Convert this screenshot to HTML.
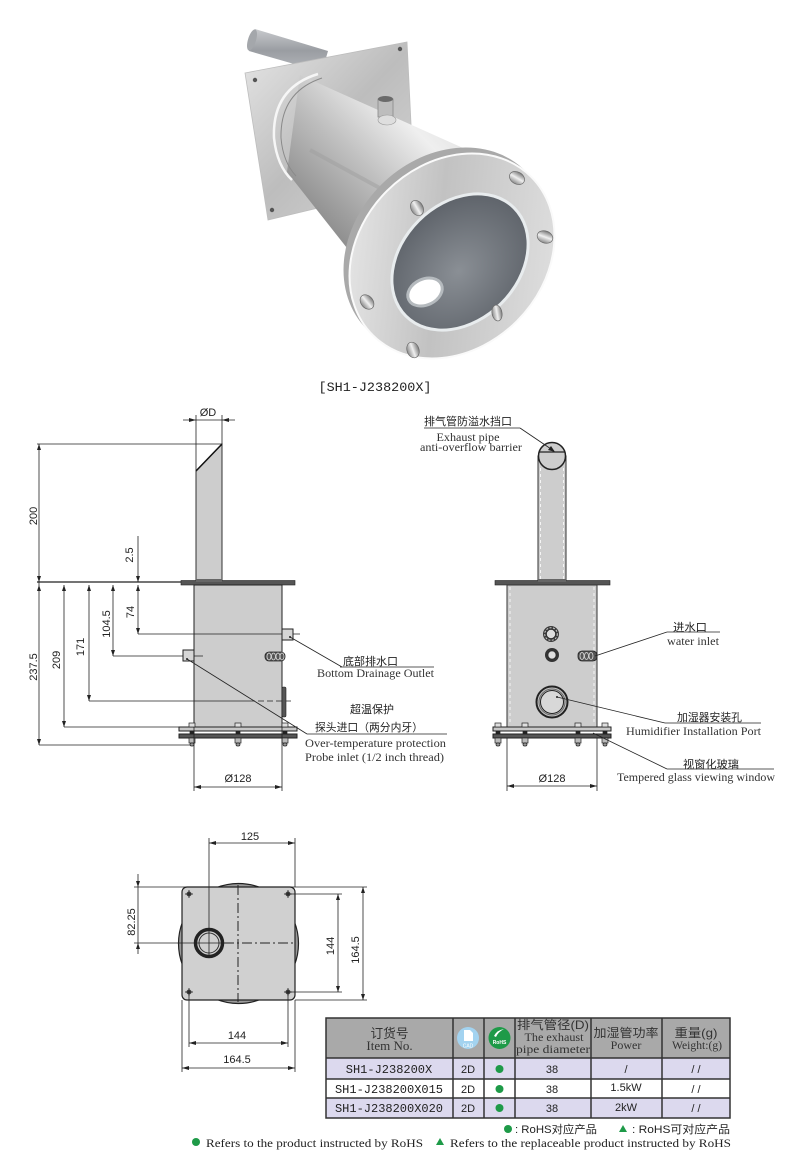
<!DOCTYPE html>
<html><head><meta charset="utf-8"><style>
html,body{margin:0;padding:0;background:#fff;}
svg{display:block}
.l{stroke:#222;stroke-width:0.8;fill:none}
.d{font-family:"Liberation Sans",sans-serif;font-size:11px;fill:#222}
.c{font-family:"Liberation Sans","Noto Sans CJK SC",sans-serif;font-size:11px;fill:#222}
.e{font-family:"Liberation Serif",serif;font-size:12px;fill:#333}
.a{fill:#222;stroke:none}
</style></head><body>
<svg width="800" height="1158" viewBox="0 0 800 1158" xmlns="http://www.w3.org/2000/svg">
<defs>
<linearGradient id="gPipe" x1="0" y1="0" x2="0" y2="1"><stop offset="0" stop-color="#c8cacd"/><stop offset="0.5" stop-color="#9a9da2"/><stop offset="1" stop-color="#b4b7bb"/></linearGradient>
<linearGradient id="gPlate" x1="0" y1="0" x2="1" y2="1"><stop offset="0" stop-color="#e6e6e6"/><stop offset="0.5" stop-color="#bdbdbd"/><stop offset="1" stop-color="#d6d6d6"/></linearGradient>
<linearGradient id="gCyl" x1="1" y1="0" x2="0" y2="1"><stop offset="0" stop-color="#d2d2d2"/><stop offset="0.3" stop-color="#efefef"/><stop offset="0.55" stop-color="#bdbdbd"/><stop offset="0.8" stop-color="#8f8f8f"/><stop offset="1" stop-color="#c4c4c4"/></linearGradient>
<linearGradient id="gRing" x1="0" y1="0" x2="1" y2="1"><stop offset="0" stop-color="#f2f2f2"/><stop offset="0.45" stop-color="#c2c2c2"/><stop offset="1" stop-color="#e6e6e6"/></linearGradient>
<radialGradient id="gWin" cx="0.45" cy="0.55" r="0.6"><stop offset="0" stop-color="#8a8f95"/><stop offset="1" stop-color="#5d6269"/></radialGradient>
<linearGradient id="gBolt" x1="0" y1="0" x2="1" y2="0"><stop offset="0" stop-color="#8a8a8a"/><stop offset="0.5" stop-color="#f0f0f0"/><stop offset="1" stop-color="#7a7a7a"/></linearGradient>
</defs>

<!-- ===== PHOTO ===== -->
<polygon points="255,29 328,51 322,72 249,51" fill="url(#gPipe)"/>
<ellipse cx="252" cy="40" rx="4" ry="11" transform="rotate(17 252 40)" fill="#a4a7ab"/>
<polygon points="245,73 407,42 414,185 268,220" fill="url(#gPlate)" stroke="#bdbdbd" stroke-width="0.8"/>
<circle cx="255" cy="80" r="2.2" fill="#555"/>
<circle cx="400" cy="49" r="2.2" fill="#555"/>
<circle cx="272" cy="210" r="2.2" fill="#555"/>
<polygon points="300,75 472,152 358,262 287,172" fill="url(#gCyl)"/>
<path d="M318,74 Q272,88 274,138 Q277,166 292,180" fill="none" stroke="#f6f6f6" stroke-width="2.5"/>
<path d="M322,78 Q280,92 281,138 Q283,162 296,176" fill="none" stroke="#8a8a8a" stroke-width="1"/>
<path d="M310,150 L420,210" stroke="#a0a0a0" stroke-width="4" opacity="0.5"/>
<rect x="378" y="99" width="15" height="18" fill="#bdbdbd" stroke="#888" stroke-width="0.8"/>
<ellipse cx="385.5" cy="99" rx="7.5" ry="3" fill="#6a6a6a"/>
<ellipse cx="387" cy="120" rx="9" ry="5" fill="#dedede" stroke="#999" stroke-width="0.6"/>
<ellipse cx="446" cy="250" rx="112" ry="92" transform="rotate(-45 446 250)" fill="#a9a9a9"/>
<ellipse cx="452" cy="256" rx="112" ry="92" transform="rotate(-45 452 256)" fill="url(#gRing)" stroke="#fafafa" stroke-width="2"/>
<ellipse cx="460" cy="262" rx="78" ry="60" transform="rotate(-45 460 262)" fill="#e8ecee"/>
<ellipse cx="460" cy="262" rx="75" ry="57" transform="rotate(-45 460 262)" fill="url(#gWin)"/>
<ellipse cx="425" cy="292" rx="18" ry="13" transform="rotate(-25 425 292)" fill="#fff" stroke="#b5babe" stroke-width="3"/>
<g fill="url(#gBolt)" stroke="#6a6a6a" stroke-width="0.7">
<ellipse cx="417" cy="208" rx="6" ry="8" transform="rotate(-30 417 208)"/>
<ellipse cx="517" cy="178" rx="6" ry="8" transform="rotate(-60 517 178)"/>
<ellipse cx="545" cy="237" rx="6" ry="8" transform="rotate(-70 545 237)"/>
<ellipse cx="497" cy="313" rx="5" ry="8" transform="rotate(-10 497 313)"/>
<ellipse cx="413" cy="350" rx="6" ry="8" transform="rotate(-20 413 350)"/>
<ellipse cx="367" cy="302" rx="6" ry="8" transform="rotate(-40 367 302)"/>
</g>

<text x="375" y="391" text-anchor="middle" font-family="Liberation Mono,monospace" font-size="13" fill="#222" textLength="113" lengthAdjust="spacingAndGlyphs">[SH1-J238200X]</text>

<!-- ===== LEFT ELEVATION ===== -->
<polygon points="196,471 222,444 222,582 196,582" fill="#cdcdcd" stroke="#333" stroke-width="1"/>
<line x1="196" y1="471" x2="222" y2="444" stroke="#111" stroke-width="1.5"/>
<line class="l" x1="196" y1="415" x2="196" y2="471"/>
<line class="l" x1="222" y1="415" x2="222" y2="444"/>
<line class="l" x1="183" y1="420" x2="235" y2="420"/>
<polygon class="a" points="196,420 189,418 189,422"/>
<polygon class="a" points="222,420 229,418 229,422"/>
<text class="d" x="208" y="416" text-anchor="middle">ØD</text>
<line class="l" x1="37" y1="444" x2="222" y2="444"/>
<line class="l" x1="39" y1="444" x2="39" y2="745"/>
<polygon class="a" points="39,444 37,450 41,450"/>
<polygon class="a" points="39,582 37,576 41,576"/>
<text class="d" transform="translate(37,516) rotate(-90)" text-anchor="middle">200</text>
<line x1="37" y1="582" x2="182" y2="582" stroke="#222" stroke-width="1.3"/>
<rect x="181" y="580.5" width="114" height="4.5" fill="#555" stroke="#222" stroke-width="0.6"/>
<rect x="196" y="579" width="26" height="3" fill="#666"/>
<line class="l" x1="138" y1="536" x2="138" y2="582"/>
<polygon class="a" points="138,582 136,576 140,576"/>
<text class="d" transform="translate(133,555) rotate(-90)" text-anchor="middle">2.5</text>
<rect x="194" y="585" width="88" height="142" fill="#cdcdcd" stroke="#222" stroke-width="1"/>
<line class="l" x1="138" y1="585" x2="138" y2="634"/>
<polygon class="a" points="138,585 136,591 140,591"/>
<polygon class="a" points="138,634 136,628 140,628"/>
<text class="d" transform="translate(134,612) rotate(-90)" text-anchor="middle">74</text>
<line class="l" x1="113" y1="585" x2="113" y2="656"/>
<polygon class="a" points="113,585 111,591 115,591"/>
<polygon class="a" points="113,656 111,650 115,650"/>
<text class="d" transform="translate(110,624) rotate(-90)" text-anchor="middle">104.5</text>
<line class="l" x1="89" y1="585" x2="89" y2="701"/>
<polygon class="a" points="89,585 87,591 91,591"/>
<polygon class="a" points="89,701 87,695 91,695"/>
<text class="d" transform="translate(84,647) rotate(-90)" text-anchor="middle">171</text>
<line class="l" x1="64" y1="585" x2="64" y2="727"/>
<polygon class="a" points="64,585 62,591 66,591"/>
<polygon class="a" points="64,727 62,721 66,721"/>
<text class="d" transform="translate(60,660) rotate(-90)" text-anchor="middle">209</text>
<polygon class="a" points="39,585 37,591 41,591"/>
<polygon class="a" points="39,745 37,739 41,739"/>
<text class="d" transform="translate(37,667) rotate(-90)" text-anchor="middle">237.5</text>
<line class="l" x1="138" y1="634" x2="300" y2="634"/>
<line class="l" x1="113" y1="656" x2="203" y2="656"/>
<line class="l" x1="89" y1="701" x2="255" y2="701"/>
<line class="l" x1="258" y1="701" x2="293" y2="701" stroke-dasharray="6,3"/>
<line class="l" x1="64" y1="727" x2="194" y2="727"/>
<line class="l" x1="39" y1="745" x2="192" y2="745"/>
<rect x="282" y="629" width="11" height="11" fill="#d6d6d6" stroke="#222" stroke-width="1"/>
<rect x="183" y="650" width="11" height="11" fill="#d6d6d6" stroke="#222" stroke-width="1"/>
<circle cx="290" cy="637" r="1" fill="#222"/>
<circle cx="187" cy="659" r="1" fill="#222"/>
<rect x="265" y="652" width="20" height="9" rx="4" fill="#555" stroke="#222" stroke-width="0.8"/>
<g fill="none" stroke="#ddd" stroke-width="0.8"><ellipse cx="269" cy="656.5" rx="2" ry="3.5"/><ellipse cx="273.5" cy="656.5" rx="2" ry="3.5"/><ellipse cx="278" cy="656.5" rx="2" ry="3.5"/><ellipse cx="282" cy="656.5" rx="2" ry="3.5"/></g>
<rect x="282" y="687" width="4" height="30" rx="1.5" fill="#555" stroke="#222" stroke-width="0.6"/>
<rect x="179" y="727" width="118" height="4" fill="#c8c8c8" stroke="#222" stroke-width="1"/>
<rect x="179" y="734" width="118" height="4" fill="#555" stroke="#222" stroke-width="1"/>
<g stroke="#222" stroke-width="0.7">
<rect x="189" y="723" width="6" height="4" fill="#e0e0e0"/><rect x="190" y="731" width="4" height="3" fill="#222"/><rect x="189" y="738" width="6" height="5" fill="#bbb"/><rect x="190" y="743" width="4" height="3" rx="1.5" fill="#999"/>
<rect x="235" y="723" width="6" height="4" fill="#e0e0e0"/><rect x="236" y="731" width="4" height="3" fill="#222"/><rect x="235" y="738" width="6" height="5" fill="#bbb"/><rect x="236" y="743" width="4" height="3" rx="1.5" fill="#999"/>
<rect x="282" y="723" width="6" height="4" fill="#e0e0e0"/><rect x="283" y="731" width="4" height="3" fill="#222"/><rect x="282" y="738" width="6" height="5" fill="#bbb"/><rect x="283" y="743" width="4" height="3" rx="1.5" fill="#999"/>
</g>
<line class="l" x1="194" y1="727" x2="194" y2="791"/>
<line class="l" x1="282" y1="727" x2="282" y2="791"/>
<line class="l" x1="194" y1="787" x2="282" y2="787"/>
<polygon class="a" points="194,787 201,785 201,789"/>
<polygon class="a" points="282,787 275,785 275,789"/>
<text class="d" x="238" y="782" text-anchor="middle">Ø128</text>
<line class="l" x1="290" y1="637" x2="342" y2="667"/>
<line class="l" x1="340" y1="667" x2="434" y2="667"/>
<text class="c" x="343" y="665" textLength="55" lengthAdjust="spacingAndGlyphs">底部排水口</text>
<text class="e" x="317" y="677" font-size="11" textLength="117" lengthAdjust="spacingAndGlyphs">Bottom Drainage Outlet</text>
<line class="l" x1="187" y1="659" x2="307" y2="734"/>
<line class="l" x1="307" y1="734" x2="447" y2="734"/>
<text class="c" x="372" y="713" text-anchor="middle">超温保护</text>
<text class="c" x="315" y="731" textLength="108" lengthAdjust="spacingAndGlyphs">探头进口（两分内牙）</text>
<text class="e" x="305" y="747" textLength="141" lengthAdjust="spacingAndGlyphs">Over-temperature protection</text>
<text class="e" x="305" y="761" textLength="139" lengthAdjust="spacingAndGlyphs">Probe inlet (1/2 inch thread)</text>

<!-- ===== RIGHT ELEVATION ===== -->
<rect x="538" y="456" width="28" height="126" fill="#cdcdcd" stroke="#333" stroke-width="1"/>
<line x1="540.5" y1="468" x2="540.5" y2="580" stroke="#fff" stroke-width="0.8" stroke-dasharray="3,3"/>
<line x1="563.5" y1="468" x2="563.5" y2="580" stroke="#fff" stroke-width="0.8" stroke-dasharray="3,3"/>
<circle cx="552" cy="456" r="13.5" fill="#cdcdcd" stroke="#222" stroke-width="1.5"/>
<line x1="539" y1="452" x2="565" y2="452" stroke="#222" stroke-width="1.2"/>
<rect x="495" y="580.5" width="115" height="4.5" fill="#555" stroke="#222" stroke-width="0.6"/>
<rect x="538" y="579" width="28" height="3" fill="#666"/>
<rect x="507" y="585" width="90" height="142" fill="#cdcdcd" stroke="#333" stroke-width="1"/>
<line x1="510" y1="587" x2="510" y2="725" stroke="#fff" stroke-width="0.8" stroke-dasharray="3,3"/>
<line x1="594" y1="587" x2="594" y2="725" stroke="#fff" stroke-width="0.8" stroke-dasharray="3,3"/>
<circle cx="551" cy="634" r="8" fill="#3a3a3a"/>
<circle cx="551" cy="634" r="6.3" fill="none" stroke="#ccc" stroke-width="1" stroke-dasharray="2,1.5"/>
<circle cx="551" cy="634" r="4.5" fill="#ddd" stroke="#222" stroke-width="0.6"/>
<circle cx="552" cy="655" r="7" fill="#333"/>
<circle cx="552" cy="655" r="4" fill="#ddd" stroke="#222" stroke-width="0.6"/>
<rect x="578" y="651" width="19" height="10" rx="4" fill="#555" stroke="#222" stroke-width="0.8"/>
<g fill="none" stroke="#ddd" stroke-width="0.8"><ellipse cx="582" cy="656" rx="2" ry="3.5"/><ellipse cx="586.5" cy="656" rx="2" ry="3.5"/><ellipse cx="591" cy="656" rx="2" ry="3.5"/></g>
<circle cx="552" cy="702" r="15.5" fill="#c6c6c6" stroke="#222" stroke-width="2"/>
<circle cx="552" cy="702" r="13" fill="none" stroke="#666" stroke-width="1"/>
<circle cx="552" cy="702" r="11.5" fill="#d8d8d8" stroke="#222" stroke-width="1"/>
<circle cx="557" cy="697" r="1" fill="#222"/>
<rect x="493" y="727" width="118" height="4" fill="#c8c8c8" stroke="#222" stroke-width="1"/>
<rect x="493" y="734" width="118" height="4" fill="#555" stroke="#222" stroke-width="1"/>
<g stroke="#222" stroke-width="0.7">
<rect x="495" y="723" width="6" height="4" fill="#e0e0e0"/><rect x="496" y="731" width="4" height="3" fill="#222"/><rect x="495" y="738" width="6" height="5" fill="#bbb"/><rect x="496" y="743" width="4" height="3" rx="1.5" fill="#999"/>
<rect x="522" y="723" width="6" height="4" fill="#e0e0e0"/><rect x="523" y="731" width="4" height="3" fill="#222"/><rect x="522" y="738" width="6" height="5" fill="#bbb"/><rect x="523" y="743" width="4" height="3" rx="1.5" fill="#999"/>
<rect x="575" y="723" width="6" height="4" fill="#e0e0e0"/><rect x="576" y="731" width="4" height="3" fill="#222"/><rect x="575" y="738" width="6" height="5" fill="#bbb"/><rect x="576" y="743" width="4" height="3" rx="1.5" fill="#999"/>
<rect x="602" y="723" width="6" height="4" fill="#e0e0e0"/><rect x="603" y="731" width="4" height="3" fill="#222"/><rect x="602" y="738" width="6" height="5" fill="#bbb"/><rect x="603" y="743" width="4" height="3" rx="1.5" fill="#999"/>
</g>
<line class="l" x1="507" y1="738" x2="507" y2="791"/>
<line class="l" x1="597" y1="738" x2="597" y2="791"/>
<line class="l" x1="507" y1="786" x2="597" y2="786"/>
<polygon class="a" points="507,786 514,784 514,788"/>
<polygon class="a" points="597,786 590,784 590,788"/>
<text class="d" x="552" y="782" text-anchor="middle">Ø128</text>
<line class="l" x1="424" y1="428" x2="520" y2="428"/>
<line class="l" x1="520" y1="428" x2="554" y2="451"/>
<polygon class="a" points="555,452 548,450 551,446"/>
<text class="c" x="424" y="425" textLength="88" lengthAdjust="spacingAndGlyphs">排气管防溢水挡口</text>
<text class="e" x="468" y="441" font-size="11" text-anchor="middle" textLength="63" lengthAdjust="spacingAndGlyphs">Exhaust pipe</text>
<text class="e" x="471" y="451" font-size="11" text-anchor="middle" textLength="102" lengthAdjust="spacingAndGlyphs">anti-overflow barrier</text>
<line class="l" x1="595" y1="656" x2="667" y2="632"/>
<line class="l" x1="667" y1="632" x2="720" y2="632"/>
<text class="c" x="673" y="631" textLength="34" lengthAdjust="spacingAndGlyphs">进水口</text>
<text class="e" x="667" y="645" font-size="11" textLength="52" lengthAdjust="spacingAndGlyphs">water inlet</text>
<line class="l" x1="557" y1="697" x2="665" y2="723"/>
<line class="l" x1="665" y1="723" x2="761" y2="723"/>
<text class="c" x="677" y="721" textLength="65" lengthAdjust="spacingAndGlyphs">加湿器安装孔</text>
<text class="e" x="626" y="735" font-size="11" textLength="135" lengthAdjust="spacingAndGlyphs">Humidifier Installation Port</text>
<line class="l" x1="593" y1="733" x2="667" y2="769"/>
<line class="l" x1="667" y1="769" x2="774" y2="769"/>
<text class="c" x="683" y="768" textLength="56" lengthAdjust="spacingAndGlyphs">视窗化玻璃</text>
<text class="e" x="617" y="781" font-size="11" textLength="158" lengthAdjust="spacingAndGlyphs">Tempered glass viewing window</text>

<!-- ===== PLAN VIEW ===== -->
<circle cx="238.5" cy="943.5" r="60" fill="#9a9a9a" stroke="#222" stroke-width="1.2"/>
<rect x="182" y="887" width="113" height="113" rx="5" fill="#d0d0d0" stroke="#222" stroke-width="1.2"/>
<line x1="238" y1="885" x2="238" y2="1002" stroke="#222" stroke-width="1" stroke-dasharray="10,3,2,3"/>
<line x1="224" y1="943" x2="295" y2="943" stroke="#222" stroke-width="1" stroke-dasharray="10,3,2,3"/>
<line class="l" x1="134" y1="943" x2="224" y2="943"/>
<circle cx="209" cy="943" r="13.5" fill="#d0d0d0" stroke="#222" stroke-width="3.5"/>
<circle cx="209" cy="943" r="10" fill="#d0d0d0" stroke="#333" stroke-width="1"/>
<line class="l" x1="209" y1="838" x2="209" y2="957"/>
<line class="l" x1="195" y1="943" x2="223" y2="943"/>
<g fill="#444"><circle cx="189" cy="894" r="2.5"/><circle cx="288" cy="894" r="2.5"/><circle cx="189" cy="992" r="2.5"/><circle cx="288" cy="992" r="2.5"/></g>
<g class="l"><line x1="185" y1="894" x2="193" y2="894"/><line x1="189" y1="890" x2="189" y2="898"/><line x1="284" y1="894" x2="292" y2="894"/><line x1="288" y1="890" x2="288" y2="898"/><line x1="185" y1="992" x2="193" y2="992"/><line x1="189" y1="988" x2="189" y2="996"/><line x1="284" y1="992" x2="292" y2="992"/><line x1="288" y1="988" x2="288" y2="996"/></g>
<line class="l" x1="295" y1="838" x2="295" y2="887"/>
<line class="l" x1="209" y1="843" x2="295" y2="843"/>
<polygon class="a" points="209,843 216,841 216,845"/>
<polygon class="a" points="295,843 288,841 288,845"/>
<text class="d" x="250" y="840" text-anchor="middle">125</text>
<line class="l" x1="134" y1="887" x2="367" y2="887"/>
<line class="l" x1="138" y1="874" x2="138" y2="954"/>
<polygon class="a" points="138,887 136,881 140,881"/>
<polygon class="a" points="138,943 136,949 140,949"/>
<text class="d" transform="translate(135,922) rotate(-90)" text-anchor="middle">82.25</text>
<line class="l" x1="288" y1="894" x2="342" y2="894"/>
<line class="l" x1="288" y1="992" x2="342" y2="992"/>
<line class="l" x1="295" y1="1000" x2="367" y2="1000"/>
<line class="l" x1="338" y1="894" x2="338" y2="992"/>
<polygon class="a" points="338,894 336,900 340,900"/>
<polygon class="a" points="338,992 336,986 340,986"/>
<text class="d" transform="translate(334,946) rotate(-90)" text-anchor="middle">144</text>
<line class="l" x1="363" y1="887" x2="363" y2="1000"/>
<polygon class="a" points="363,887 361,893 365,893"/>
<polygon class="a" points="363,1000 361,994 365,994"/>
<text class="d" transform="translate(359,950) rotate(-90)" text-anchor="middle">164.5</text>
<line class="l" x1="189" y1="992" x2="189" y2="1047"/>
<line class="l" x1="288" y1="992" x2="288" y2="1047"/>
<line class="l" x1="182" y1="1000" x2="182" y2="1072"/>
<line class="l" x1="295" y1="1000" x2="295" y2="1072"/>
<line class="l" x1="189" y1="1043" x2="288" y2="1043"/>
<polygon class="a" points="189,1043 196,1041 196,1045"/>
<polygon class="a" points="288,1043 281,1041 281,1045"/>
<text class="d" x="237" y="1039" text-anchor="middle">144</text>
<line class="l" x1="182" y1="1068" x2="295" y2="1068"/>
<polygon class="a" points="182,1068 189,1066 189,1070"/>
<polygon class="a" points="295,1068 288,1066 288,1070"/>
<text class="d" x="237" y="1063" text-anchor="middle">164.5</text>

<!-- ===== TABLE ===== -->
<rect x="326" y="1018" width="404" height="40" fill="#a9a9a9"/>
<rect x="326" y="1058" width="404" height="21" fill="#dcd9ee"/>
<rect x="326" y="1079" width="404" height="19" fill="#ffffff"/>
<rect x="326" y="1098" width="404" height="20" fill="#dcd9ee"/>
<g stroke="#333" stroke-width="1.5" fill="none">
<rect x="326" y="1018" width="404" height="100"/>
<line x1="326" y1="1058" x2="730" y2="1058"/>
<line x1="326" y1="1079" x2="730" y2="1079"/>
<line x1="326" y1="1098" x2="730" y2="1098"/>
<line x1="453" y1="1018" x2="453" y2="1118"/>
<line x1="484" y1="1018" x2="484" y2="1118"/>
<line x1="515" y1="1018" x2="515" y2="1118"/>
<line x1="591" y1="1018" x2="591" y2="1118"/>
<line x1="662" y1="1018" x2="662" y2="1118"/>
</g>
<text x="389.5" y="1038" text-anchor="middle" font-family="Liberation Sans,'Noto Sans CJK SC',sans-serif" font-size="13" fill="#333" textLength="38" lengthAdjust="spacingAndGlyphs">订货号</text>
<text x="389.5" y="1050" text-anchor="middle" font-family="Liberation Serif,serif" font-size="13" fill="#333">Item No.</text>
<circle cx="468" cy="1038" r="11" fill="#a3d3f0"/>
<path d="M464,1030 h6 l3,3 v8 h-9 z" fill="#fff"/>
<text x="468" y="1047.5" text-anchor="middle" font-family="Liberation Sans,sans-serif" font-size="5" fill="#fff">CAD</text>
<circle cx="499.5" cy="1038" r="11" fill="#1e9a48"/>
<path d="M494,1036 q3,-6 10,-7 q-6,3 -8,8 z" fill="#fff"/>
<text x="499.5" y="1044" text-anchor="middle" font-family="Liberation Sans,sans-serif" font-size="5" font-weight="bold" fill="#fff">RoHS</text>
<text x="553" y="1029" text-anchor="middle" font-family="Liberation Sans,'Noto Sans CJK SC',sans-serif" font-size="12" fill="#333" textLength="72" lengthAdjust="spacingAndGlyphs">排气管径(D)</text>
<text x="554" y="1041" text-anchor="middle" font-family="Liberation Serif,serif" font-size="12" fill="#333" textLength="59" lengthAdjust="spacingAndGlyphs">The exhaust</text>
<text x="553" y="1053" text-anchor="middle" font-family="Liberation Serif,serif" font-size="12" fill="#333" textLength="74" lengthAdjust="spacingAndGlyphs">pipe diameter</text>
<text x="626" y="1037" text-anchor="middle" font-family="Liberation Sans,'Noto Sans CJK SC',sans-serif" font-size="12" fill="#333" textLength="65" lengthAdjust="spacingAndGlyphs">加湿管功率</text>
<text x="626" y="1049" text-anchor="middle" font-family="Liberation Serif,serif" font-size="12" fill="#333">Power</text>
<text x="696" y="1037" text-anchor="middle" font-family="Liberation Sans,'Noto Sans CJK SC',sans-serif" font-size="12" fill="#333" textLength="43" lengthAdjust="spacingAndGlyphs">重量(g)</text>
<text x="697" y="1049" text-anchor="middle" font-family="Liberation Serif,serif" font-size="12" fill="#333" textLength="50" lengthAdjust="spacingAndGlyphs">Weight:(g)</text>
<g font-family="Liberation Mono,monospace" font-size="12" fill="#222" text-anchor="middle">
<text x="389" y="1073">SH1-J238200X</text>
<text x="389" y="1093">SH1-J238200X015</text>
<text x="389" y="1112">SH1-J238200X020</text>
</g>
<g font-family="Liberation Sans,sans-serif" font-size="11" fill="#222" text-anchor="middle">
<text x="468" y="1073">2D</text><text x="468" y="1093">2D</text><text x="468" y="1112">2D</text>
<text x="552" y="1073">38</text><text x="552" y="1093">38</text><text x="552" y="1112">38</text>
<text x="626" y="1073">/</text><text x="626" y="1091">1.5kW</text><text x="626" y="1111">2kW</text>
<text x="696" y="1073">/ /</text><text x="696" y="1093">/ /</text><text x="696" y="1112">/ /</text>
</g>
<g fill="#1e9a48"><circle cx="499.5" cy="1069" r="4"/><circle cx="499.5" cy="1089" r="4"/><circle cx="499.5" cy="1108" r="4"/></g>
<circle cx="508" cy="1129" r="4" fill="#1e9a48"/>
<text x="515" y="1133" font-family="Liberation Sans,'Noto Sans CJK SC',sans-serif" font-size="11" fill="#222" textLength="82" lengthAdjust="spacingAndGlyphs">: RoHS对应产品</text>
<polygon points="623,1125 619,1132 627,1132" fill="#1e9a48"/>
<text x="632" y="1133" font-family="Liberation Sans,'Noto Sans CJK SC',sans-serif" font-size="11" fill="#222" textLength="98" lengthAdjust="spacingAndGlyphs">: RoHS可对应产品</text>
<circle cx="196" cy="1142" r="4" fill="#1e9a48"/>
<text x="206" y="1147" font-family="Liberation Serif,serif" font-size="12" fill="#222" textLength="217" lengthAdjust="spacingAndGlyphs">Refers to the product instructed by RoHS</text>
<polygon points="440,1138 436,1145 444,1145" fill="#1e9a48"/>
<text x="450" y="1147" font-family="Liberation Serif,serif" font-size="12" fill="#222" textLength="281" lengthAdjust="spacingAndGlyphs">Refers to the replaceable product instructed by RoHS</text>
</svg>
</body></html>
